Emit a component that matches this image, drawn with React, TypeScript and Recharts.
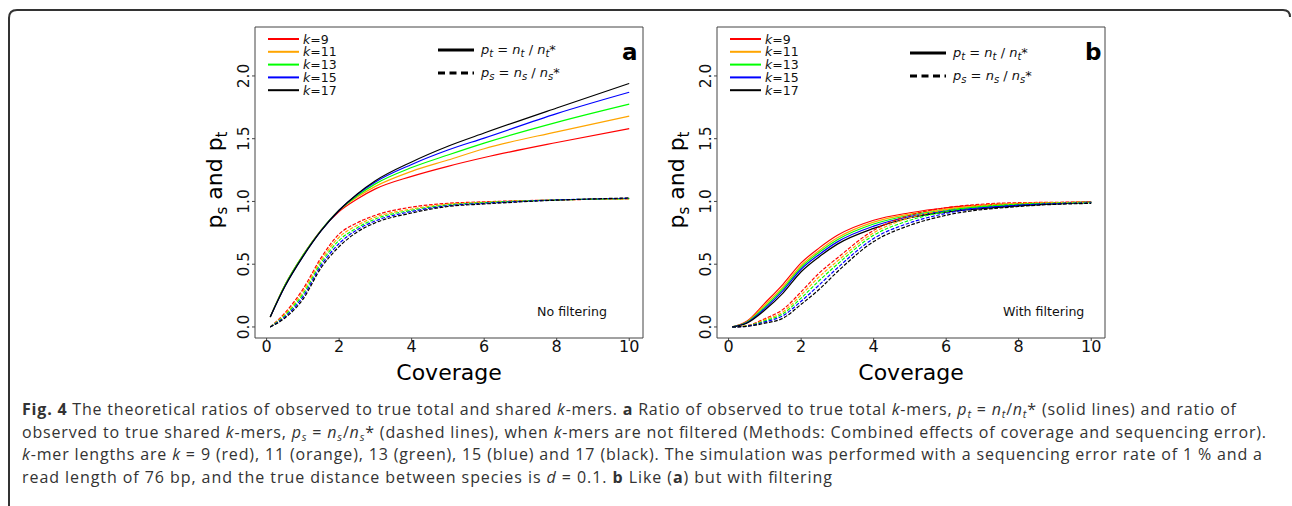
import React from "react";
import { LineChart, Line, XAxis, YAxis } from "recharts";

// ---------- data ----------
const coverage = [0.1, 0.5, 1, 1.5, 2, 2.5, 3, 4, 5, 6, 8, 10];
const xTicks = [0, 2, 4, 6, 8, 10];
const yTicks = [0, 0.5, 1, 1.5, 2];
const kValues = ["9", "11", "13", "15", "17"];
const kColors = ["#ff0000", "#ffa500", "#00ff00", "#0000ff", "#000000"];

// Panel a: no filtering, p_t (solid)
const noFiltTotalK9 = [0.08, 0.33, 0.57, 0.77, 0.92, 1.02, 1.1, 1.2, 1.28, 1.35, 1.47, 1.58];
const noFiltTotalK11 = [0.08, 0.33, 0.57, 0.77, 0.93, 1.035, 1.12, 1.24, 1.33, 1.42, 1.555, 1.68];
const noFiltTotalK13 = [0.08, 0.33, 0.57, 0.77, 0.93, 1.045, 1.14, 1.27, 1.37, 1.465, 1.63, 1.775];
const noFiltTotalK15 = [0.08, 0.32, 0.56, 0.765, 0.93, 1.055, 1.155, 1.295, 1.41, 1.505, 1.7, 1.87];
const noFiltTotalK17 = [0.08, 0.32, 0.56, 0.765, 0.93, 1.06, 1.165, 1.315, 1.44, 1.545, 1.745, 1.94];
// Panel a: no filtering, p_s (dashed)
const noFiltSharedK9 = [0.0, 0.11, 0.3, 0.55, 0.74, 0.83, 0.89, 0.955, 0.985, 0.997, 1.012, 1.02];
const noFiltSharedK11 = [0.0, 0.1, 0.28, 0.53, 0.715, 0.81, 0.875, 0.94, 0.978, 0.993, 1.012, 1.022];
const noFiltSharedK13 = [0.0, 0.09, 0.26, 0.51, 0.69, 0.79, 0.86, 0.93, 0.972, 0.99, 1.012, 1.022];
const noFiltSharedK15 = [0.0, 0.08, 0.24, 0.49, 0.665, 0.775, 0.845, 0.92, 0.966, 0.985, 1.012, 1.025];
const noFiltSharedK17 = [0.0, 0.07, 0.22, 0.47, 0.64, 0.757, 0.83, 0.908, 0.96, 0.98, 1.01, 1.028];

// Panel b: with filtering, p_t (solid)
const filtTotalK9 = [0.0, 0.045, 0.19, 0.34, 0.51, 0.63, 0.73, 0.85, 0.91, 0.95, 0.982, 0.995];
const filtTotalK11 = [0.0, 0.04, 0.175, 0.32, 0.49, 0.61, 0.71, 0.835, 0.9, 0.94, 0.978, 0.995];
const filtTotalK13 = [0.0, 0.037, 0.16, 0.305, 0.475, 0.595, 0.695, 0.82, 0.89, 0.932, 0.974, 0.994];
const filtTotalK15 = [0.0, 0.033, 0.148, 0.29, 0.46, 0.578, 0.678, 0.803, 0.88, 0.924, 0.97, 0.994];
const filtTotalK17 = [0.0, 0.03, 0.135, 0.27, 0.44, 0.56, 0.66, 0.785, 0.87, 0.915, 0.965, 0.993];
// Panel b: with filtering, p_s (dashed)
const filtSharedK9 = [0.0, 0.01, 0.066, 0.14, 0.28, 0.43, 0.55, 0.77, 0.89, 0.95, 0.99, 0.995];
const filtSharedK11 = [0.0, 0.009, 0.057, 0.12, 0.255, 0.4, 0.525, 0.75, 0.87, 0.935, 0.985, 0.993];
const filtSharedK13 = [0.0, 0.008, 0.048, 0.105, 0.23, 0.37, 0.5, 0.73, 0.85, 0.92, 0.978, 0.99];
const filtSharedK15 = [0.0, 0.006, 0.04, 0.09, 0.205, 0.335, 0.47, 0.705, 0.83, 0.905, 0.97, 0.988];
const filtSharedK17 = [0.0, 0.005, 0.03, 0.07, 0.18, 0.3, 0.44, 0.68, 0.81, 0.89, 0.96, 0.985];

const buildRows = (total: number[][], shared: number[][]) =>
  coverage.map((c, i) => {
    const row: Record<string, number> = { c };
    kValues.forEach((k, j) => {
      row["t" + k] = total[j][i];
      row["s" + k] = shared[j][i];
    });
    return row;
  });

const rowsA = buildRows(
  [noFiltTotalK9, noFiltTotalK11, noFiltTotalK13, noFiltTotalK15, noFiltTotalK17],
  [noFiltSharedK9, noFiltSharedK11, noFiltSharedK13, noFiltSharedK15, noFiltSharedK17]
);
const rowsB = buildRows(
  [filtTotalK9, filtTotalK11, filtTotalK13, filtTotalK15, filtTotalK17],
  [filtSharedK9, filtSharedK11, filtSharedK13, filtSharedK15, filtSharedK17]
);

// ---------- styling ----------
const MPL = "'DejaVu Sans', sans-serif";
const CAP = "'Open Sans', 'Noto Sans', sans-serif";
const AXIS = "#444";
const xDomain: [number, number] = [-0.32, 10.38];
const yDomain: [number, number] = [-0.088, 2.39];

type Seg = { t: string; i?: boolean; b?: boolean; sub?: boolean };

const renderSegs = (segs: Seg[], subSize: number, subShift: number) => {
  let prev = 0;
  return segs.map((s, idx) => {
    const off = s.sub ? subShift : 0;
    const dy = off - prev;
    prev = off;
    return (
      <tspan
        key={idx}
        dy={dy !== 0 ? dy : undefined}
        fontStyle={s.i ? "italic" : undefined}
        fontWeight={s.b ? "bold" : undefined}
        fontSize={s.sub ? subSize : undefined}
      >
        {s.t}
      </tspan>
    );
  });
};

const YTick = (props: any) => {
  const { x, y, payload } = props;
  return (
    <text
      x={x}
      y={y}
      transform={`rotate(-90 ${x} ${y})`}
      textAnchor="middle"
      dominantBaseline="central"
      fontSize={15.5}
      fontFamily={MPL}
      fill="#111"
    >
      {Number(payload.value).toFixed(1)}
    </text>
  );
};

const XTick = (props: any) => {
  const { x, y, payload } = props;
  return (
    <text x={x} y={y} textAnchor="middle" dominantBaseline="central" fontSize={16} fontFamily={MPL} fill="#111">
      {payload.value}
    </text>
  );
};

const Panel = ({ left, rows }: { left: number; rows: Record<string, number>[] }) => (
  <div style={{ position: "absolute", left, top: 0 }}>
    <LineChart width={480} height={400} data={rows} margin={{ top: 26, right: 16, bottom: 32, left: 35 }}>
      <XAxis
        dataKey="c"
        type="number"
        domain={xDomain}
        ticks={xTicks}
        allowDataOverflow
        height={30}
        stroke={AXIS}
        tickSize={3}
        tickMargin={5}
        tick={<XTick />}
      />
      <XAxis
        xAxisId="top"
        orientation="top"
        type="number"
        domain={xDomain}
        allowDataOverflow
        height={1}
        tick={false}
        tickLine={false}
        stroke={AXIS}
      />
      <YAxis
        type="number"
        domain={yDomain}
        ticks={yTicks}
        allowDataOverflow
        width={40}
        stroke={AXIS}
        tickSize={3}
        tickMargin={8}
        tick={<YTick />}
      />
      <YAxis
        yAxisId="right"
        orientation="right"
        type="number"
        domain={yDomain}
        allowDataOverflow
        width={1}
        tick={false}
        tickLine={false}
        stroke={AXIS}
      />
      {kValues.map((k, j) => (
        <Line
          key={"t" + k}
          dataKey={"t" + k}
          type="monotone"
          stroke={kColors[j]}
          strokeWidth={1.2}
          dot={false}
          isAnimationActive={false}
        />
      ))}
      {kValues.map((k, j) => (
        <Line
          key={"s" + k}
          dataKey={"s" + k}
          type="monotone"
          stroke={kColors[j]}
          strokeWidth={1.2}
          strokeDasharray="3.7 1.6"
          dot={false}
          isAnimationActive={false}
        />
      ))}
    </LineChart>
  </div>
);

const ratioSegs = (s: string): Seg[] => [
  { t: "p", i: true },
  { t: s, i: true, sub: true },
  { t: " = " },
  { t: "n", i: true },
  { t: s, i: true, sub: true },
  { t: " / " },
  { t: "n", i: true },
  { t: s, i: true, sub: true },
  { t: "*", i: true },
];

const Legends = ({ lineX, textX, styleX, letter, letterX, styleY0, note, noteX }: any) => (
  <g fontFamily={MPL}>
    {kValues.map((k, j) => (
      <g key={k}>
        <line x1={lineX} x2={lineX + 31} y1={39 + j * 12.8} y2={39 + j * 12.8} stroke={kColors[j]} strokeWidth={2} />
        <text x={textX} y={43.5 + j * 12.8} fontSize={12.5} fill="#111">
          {renderSegs([{ t: "k", i: true }, { t: "=" + k }], 10, 0)}
        </text>
      </g>
    ))}
    <line x1={styleX} x2={styleX + 36} y1={styleY0} y2={styleY0} stroke="#000" strokeWidth={3} />
    <line
      x1={styleX}
      x2={styleX + 36}
      y1={styleY0 + 23}
      y2={styleY0 + 23}
      stroke="#000"
      strokeWidth={3}
      strokeDasharray="7 4.5"
    />
    <text x={styleX + 43} y={styleY0 + 4} fontSize={13} fill="#111">
      {renderSegs(ratioSegs("t"), 10, 3)}
    </text>
    <text x={styleX + 43} y={styleY0 + 27} fontSize={13} fill="#111">
      {renderSegs(ratioSegs("s"), 10, 3)}
    </text>
    <text x={letterX} y={60} fontSize={23} fontWeight="bold" fill="#000">
      {letter}
    </text>
    <text x={noteX} y={315.5} fontSize={12.6} fill="#111">
      {note}
    </text>
  </g>
);

const yLabelSegs: Seg[] = [{ t: "p" }, { t: "s", sub: true }, { t: " and p" }, { t: "t", sub: true }];

const AxisLabels = ({ yLabelX, xCenter }: any) => (
  <g fontFamily={MPL} fill="#000">
    <text x={yLabelX} y={180} transform={`rotate(-90 ${yLabelX} 180)`} textAnchor="middle" fontSize={22}>
      {renderSegs(yLabelSegs, 15, 5)}
    </text>
    <text x={xCenter} y={380} textAnchor="middle" fontSize={22}>
      Coverage
    </text>
  </g>
);

const captionLine1: Seg[] = [
  { t: "Fig. 4", b: true },
  { t: " The theoretical ratios of observed to true total and shared " },
  { t: "k", i: true },
  { t: "-mers. " },
  { t: "a", b: true },
  { t: " Ratio of observed to true total " },
  { t: "k", i: true },
  { t: "-mers, " },
  { t: "p", i: true },
  { t: "t", i: true, sub: true },
  { t: " = " },
  { t: "n", i: true },
  { t: "t", i: true, sub: true },
  { t: "/" },
  { t: "n", i: true },
  { t: "t", i: true, sub: true },
  { t: "* (solid lines) and ratio of" },
];
const captionLine2: Seg[] = [
  { t: "observed to true shared " },
  { t: "k", i: true },
  { t: "-mers, " },
  { t: "p", i: true },
  { t: "s", i: true, sub: true },
  { t: " = " },
  { t: "n", i: true },
  { t: "s", i: true, sub: true },
  { t: "/" },
  { t: "n", i: true },
  { t: "s", i: true, sub: true },
  { t: "* (dashed lines), when " },
  { t: "k", i: true },
  { t: "-mers are not filtered (Methods: Combined effects of coverage and sequencing error)." },
];
const captionLine3: Seg[] = [
  { t: "k", i: true },
  { t: "-mer lengths are " },
  { t: "k", i: true },
  {
    t: " = 9 (red), 11 (orange), 13 (green), 15 (blue) and 17 (black). The simulation was performed with a sequencing error rate of 1 % and a",
  },
];
const captionLine4: Seg[] = [
  { t: "read length of 76 bp, and the true distance between species is " },
  { t: "d", i: true },
  { t: " = 0.1. " },
  { t: "b", b: true },
  { t: " Like (" },
  { t: "a", b: true },
  { t: ") but with filtering" },
];

const Caption = () => (
  <g fontFamily={CAP} fontSize={16} fill="#333">
    <text x={22} y={415} textLength={1214}>
      {renderSegs(captionLine1, 11, 3)}
    </text>
    <text x={22} y={438} textLength={1244}>
      {renderSegs(captionLine2, 11, 3)}
    </text>
    <text x={22} y={460} textLength={1240}>
      {renderSegs(captionLine3, 11, 3)}
    </text>
    <text x={22} y={483} textLength={810}>
      {renderSegs(captionLine4, 11, 3)}
    </text>
  </g>
);

export default function App() {
  return (
    <div
      style={{
        position: "absolute",
        left: 0,
        top: 0,
        width: 1292,
        height: 506,
        background: "#fff",
        overflow: "hidden",
      }}
    >
      <Panel left={180} rows={rowsA} />
      <Panel left={642} rows={rowsB} />
      <svg width={1292} height={506} style={{ position: "absolute", left: 0, top: 0, pointerEvents: "none" }}>
        <path d="M 9 506 L 9 18 Q 9 10 17 10 L 1283 10 Q 1290 10 1290 17" stroke="#333" strokeWidth={2} fill="none" />
        <Legends lineX={268} textX={303} styleX={438} styleY0={50} letter="a" letterX={622} note="No filtering" noteX={537} />
        <Legends
          lineX={730}
          textX={765}
          styleX={910}
          styleY0={53}
          letter="b"
          letterX={1085}
          note="With filtering"
          noteX={1003}
        />
        <AxisLabels yLabelX={222} xCenter={449} />
        <AxisLabels yLabelX={684} xCenter={911} />
        <Caption />
      </svg>
    </div>
  );
}
